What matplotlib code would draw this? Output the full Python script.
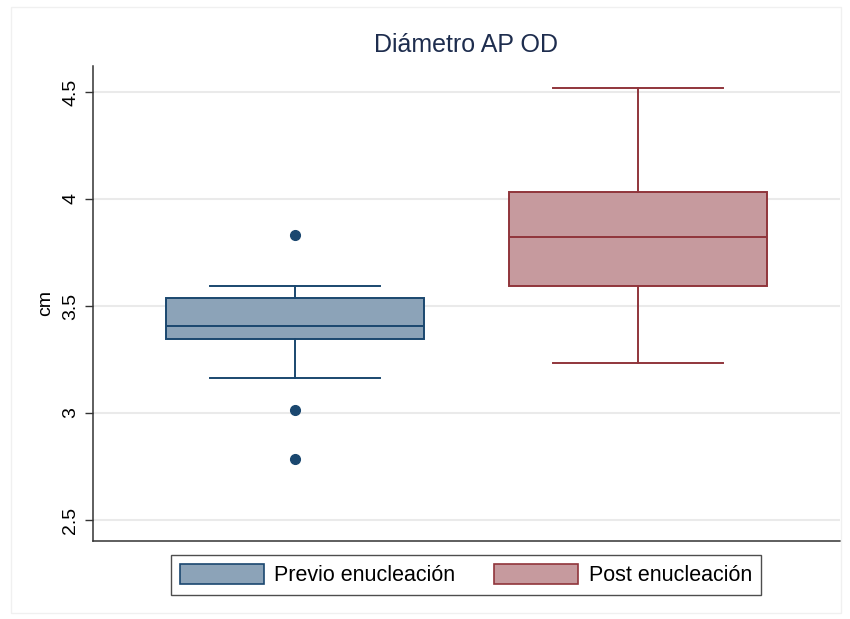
import matplotlib
matplotlib.use("Agg")
import matplotlib.pyplot as plt
from matplotlib.patches import Patch, Rectangle

plt.rcParams['font.family'] = ['Liberation Sans', 'DejaVu Sans']

# datos (cm)
grupos = ["Previo enucleación", "Post enucleación"]
q1 = [3.346, 3.593]
mediana = [3.407, 3.822]
q3 = [3.537, 4.033]
bigote_bajo = [3.164, 3.234]
bigote_alto = [3.593, 4.519]
atipicos = [[3.832, 3.014, 2.785], []]
yticks = [2.5, 3, 3.5, 4, 4.5]
yticklabels = ["2.5", "3", "3.5", "4", "4.5"]

# colores estilo Stata
bordes = ["#1A476F", "#90353B"]
rellenos = ["#8CA3B8", "#C69A9E"]

fig = plt.figure(figsize=(8.5, 6.19), dpi=100)
ax = fig.add_axes([93 / 850, 78 / 619, 747 / 850, 475 / 619])

stats = []
for i in range(len(grupos)):
    stats.append({
        "med": mediana[i], "q1": q1[i], "q3": q3[i],
        "whislo": bigote_bajo[i], "whishi": bigote_alto[i],
        "fliers": atipicos[i], "label": grupos[i],
    })

for i, st in enumerate(stats):
    c = bordes[i]
    ax.bxp([st], positions=[i + 1], widths=0.752, capwidths=0.496,
           patch_artist=True, showfliers=True,
           boxprops=dict(facecolor=rellenos[i], edgecolor=c, linewidth=1.4),
           medianprops=dict(color=c, linewidth=1.4),
           whiskerprops=dict(color=c, linewidth=1.4),
           capprops=dict(color=c, linewidth=1.4),
           flierprops=dict(marker='o', markerfacecolor=c, markeredgecolor=c,
                           markersize=7))

ax.set_xlim(0.411, 2.589)
ax.set_ylim(2.402, 4.621)
ax.set_yticks(yticks)
ax.set_yticklabels(yticklabels, rotation=90, va='center', fontsize=14)
ax.set_xticks([])
ax.tick_params(axis='y', length=6, width=1, color='#333333', pad=4)
ax.set_ylabel("cm", fontsize=14, labelpad=6)
ax.yaxis.grid(True, color='#EAEAEA', linewidth=1.5)
ax.set_axisbelow(True)
for s in ['top', 'right']:
    ax.spines[s].set_visible(False)
for s in ['left', 'bottom']:
    ax.spines[s].set_color('#333333')
    ax.spines[s].set_linewidth(1.1)

fig.text(466 / 850, 1 - 45 / 619, "Diámetro AP OD", ha='center', va='center',
         fontsize=18, color='#1E2D4E')

handles = [Patch(facecolor=rellenos[i], edgecolor=bordes[i], linewidth=1.2)
           for i in range(len(grupos))]
leg = fig.legend(handles, grupos, loc='center', bbox_to_anchor=(466 / 850, 1 - 575 / 619),
                 ncol=2, fontsize=15.5, frameon=True, fancybox=False,
                 edgecolor='#222222', handlelength=3.9, handleheight=1.05,
                 handletextpad=0.5, columnspacing=1.8, borderpad=0.4)
leg.get_frame().set_linewidth(1.0)

# marco exterior claro
fig.patches.append(Rectangle((11 / 850, 6 / 619), 830 / 850, 606 / 619,
                             transform=fig.transFigure, fill=False,
                             edgecolor='#F0F0F0', linewidth=1))

fig.savefig("out.png", dpi=100)
